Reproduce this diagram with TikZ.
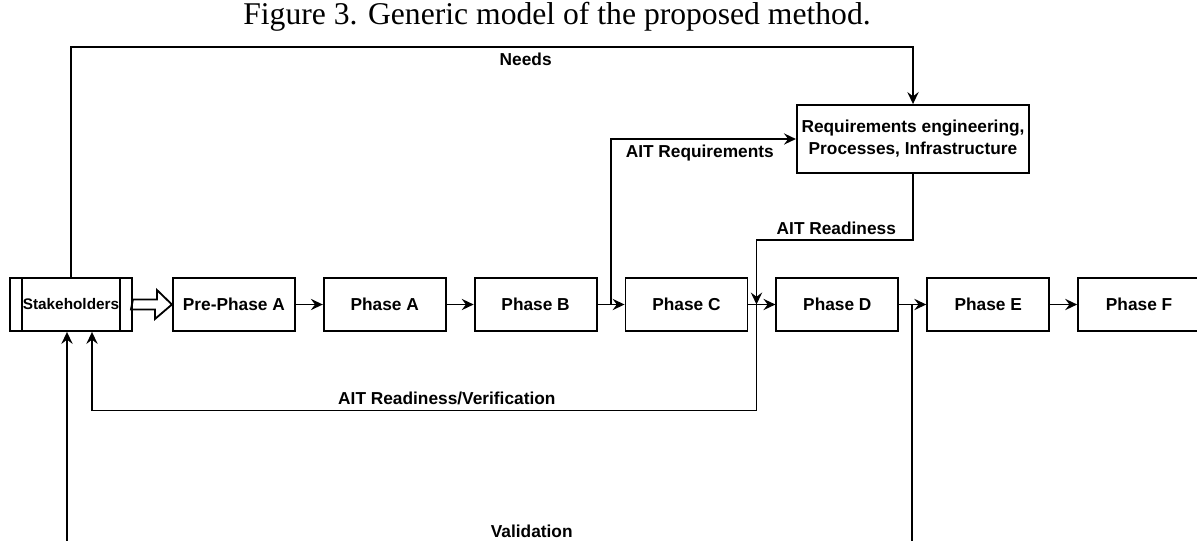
\documentclass[tikz,border=0pt]{standalone}
\usepackage{fontspec}
\setmainfont{Liberation Sans}
\newfontfamily\captionserif{Liberation Serif}
\usepackage{tikz}
\usetikzlibrary{arrows.meta, positioning, calc}

\begin{document}
\begin{tikzpicture}[
    x=0.025cm, y=-0.025cm,
    line width=1.3pt,
    node distance=0.675cm,
    phase/.style={rectangle, draw, minimum width=3.05cm, minimum height=1.325cm, font=\fontsize{12.3}{14}\selectfont\bfseries},
    stakebox/.style={phase, font=\fontsize{10.9}{13}\selectfont\bfseries},
    infra/.style={phase, minimum width=5.75cm, minimum height=1.7cm, align=center, font=\fontsize{12.3}{15.6}\selectfont\bfseries},
    lbl/.style={font=\fontsize{12.3}{14}\selectfont\bfseries},
    arrow/.style={-{Stealth[length=8.5pt,width=8pt,inset=3pt]}}
]
\useasboundingbox (0,0) rectangle (1197,540);
\clip (0,0) rectangle (1197,540);

% Title
\node[anchor=base, inner sep=0pt, font=\captionserif\fontsize{22.5}{25}\selectfont] (title) at (557,24.5) {Figure 3. Generic model of the proposed method.};

% Nodes
\node [stakebox] (stk) at (71,304.5) {Stakeholders};
\draw ([xshift=0.325cm]stk.north west) -- ([xshift=0.325cm]stk.south west);
\draw ([xshift=-0.325cm]stk.north east) -- ([xshift=-0.325cm]stk.south east);
\node [phase, right=0.975cm of stk] (pre) {Pre-Phase A};
\node [phase, right=of pre] (phA) {Phase A};
\node [phase, right=of phA] (phB) {Phase B};
\node [phase, right=of phB] (phC) {Phase C};
\node [phase, right=of phC] (phD) {Phase D};
\node [phase, right=of phD] (phE) {Phase E};
\node [phase, right=of phE] (phF) {Phase F};
\node [infra] (req) at (913,139) {Requirements engineering,\\Processes, Infrastructure};

% Hollow arrow from the stakeholders
\draw (stk.east) ++(0,-5) -- ++(24,0) -- ++(0,-9.5) -- (pre.west) -- ++(-17,14.5) -- ++(0,-9.5) -- ++(-24,0) -- cycle;

% Junctions
\coordinate (bc) at ($(phB.east)!0.5!(phC.west)$);
\coordinate (cd) at ($(phC.east)!0.3!(phD.west)$);
\coordinate (de) at ($(phD.east)!0.47!(phE.west)$);

% Arrows
\draw [arrow] (pre) -- (phA);
\draw [arrow] (phA) -- (phB);
\draw [arrow] (phB) -- (phC);
\draw [arrow] (phC) -- (phD);
\draw [arrow] (phD) -- (phE);
\draw [arrow] (phE) -- (phF);

% Feedback loops
\draw [arrow] (stk.north) -- ++(0,-230) -| (req.north) node[lbl, pos=0.27, below] {Needs};
\draw [arrow] (bc) |- (req.west) node[lbl, pos=0.74, below] {AIT Requirements};
\draw [arrow] (req.south) -- ++(0,66) -| (cd) node[lbl, pos=0.245, above] {AIT Readiness};
\draw [arrow] (cd) -- ++(0,106) -| ($(stk.south)+(21,0)$) node[lbl, pos=0.233, above] {AIT Readiness/Verification};
\draw [arrow] (de) -- ++(0,238.5) -| ($(stk.south)+(-4,0)$) node[lbl, pos=0.225, above] {Validation};

\end{tikzpicture}
\end{document}
